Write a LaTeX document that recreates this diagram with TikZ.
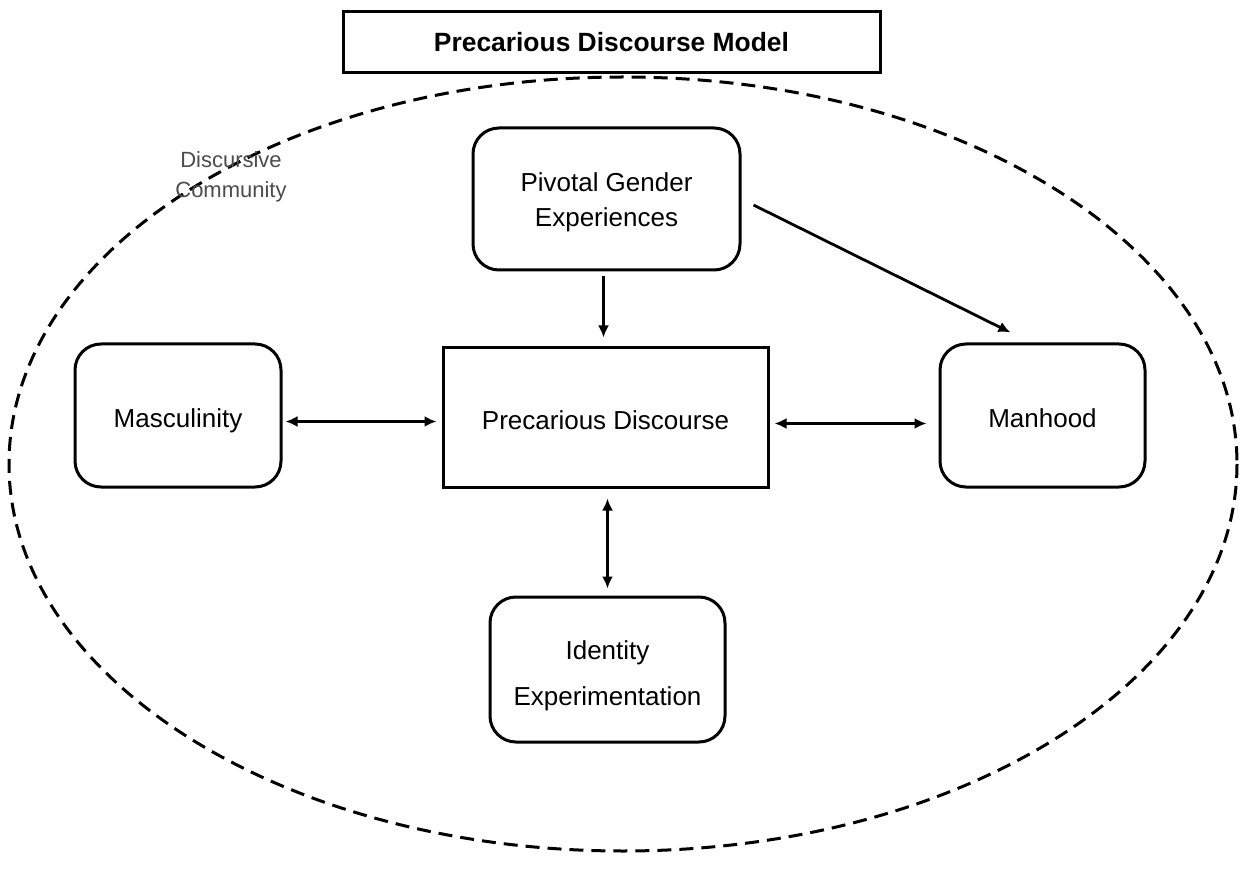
\documentclass[tikz,border=0pt]{standalone}
\usepackage{fontspec}
\setmainfont{Liberation Sans}
\usetikzlibrary{arrows.meta,calc}
\begin{document}
\begin{tikzpicture}[x=0.5pt,y=-0.5pt,
  box/.style={draw=black,line width=1.5pt,align=center,inner sep=0pt,font=\fontsize{13}{18}\selectfont},
  rbox/.style={box,rounded corners=13pt},
  oneline/.style={text height=12.1pt,text depth=0pt},
  tip/.tip={Latex[length=6pt,width=5.5pt]},
  link/.style={line width=1.4pt,-tip},
  dlink/.style={line width=1.4pt,tip-tip}]
\useasboundingbox (0,0) rectangle (1243,882);
% community boundary
\draw[line width=1.5pt,dash pattern=on 7pt off 4pt] (623,464) ellipse [x radius=614, y radius=387];
\node[text=black!70,align=center,font=\fontsize{11}{15}\selectfont] (comm) at (231,177) {Discursive\\Community};
% title
\node[box,fill=white,minimum width=268.5pt,minimum height=30.5pt,font=\bfseries\fontsize{13.2}{15}\selectfont] (title) at (611.5,42.5) {Precarious Discourse Model};
% concept boxes
\node[rbox,minimum width=133.5pt,minimum height=71pt,font=\fontsize{13}{17.5}\selectfont,text height=30.4pt,text depth=2.7pt] (pge) at (606.5,199) {Pivotal Gender\\Experiences};
\node[box,oneline,minimum width=162.5pt,minimum height=69.5pt] (pd) at (605.5,417.5) {Precarious Discourse};
\node[rbox,oneline,minimum width=103pt,minimum height=71.5pt] (masc) at (178,415.5) {Masculinity};
\node[rbox,oneline,minimum width=102.5pt,minimum height=71.5pt] (man) at (1042.5,415.5) {Manhood};
\node[rbox,minimum width=117.5pt,minimum height=72.5pt,font=\fontsize{13}{23}\selectfont,text height=38.4pt,text depth=2.7pt] (ident) at (607.5,669.5) {Identity\\Experimentation};
% connectors
\draw[link] ($(pge.south)+(-3,5)$) -- ($(pd.north)+(-2,-9)$);
\draw[link] ($(pge.east)+(12,6)$) -- ($(man.north)+(-32,-10)$);
\draw[dlink] ($(masc.east)+(3,6)$) -- ($(pd.west)+(-5,4)$);
\draw[dlink] ($(pd.east)+(5,6)$) -- ($(man.west)+(-12,8)$);
\draw[dlink] ($(pd.south)+(2,10)$) -- ($(ident.north)+(0,-7)$);
\end{tikzpicture}
\end{document}
